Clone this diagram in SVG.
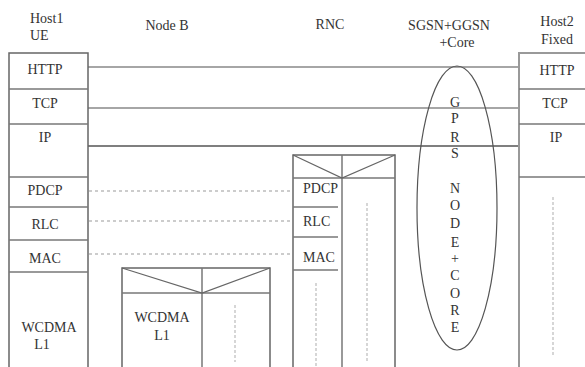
<svg xmlns="http://www.w3.org/2000/svg" width="585" height="367" viewBox="0 0 585 367" font-family="Liberation Serif, Times New Roman, DejaVu Serif, serif">
<style>
text{font-family:"Liberation Serif","Times New Roman","DejaVu Serif",serif;font-size:14px;fill:#333}
.c{text-anchor:middle}
.box{fill:none;stroke:#666;stroke-width:1.5}
.sep{stroke:#777;stroke-width:1.5}
.ln{stroke:#888;stroke-width:1.5}
.dash{stroke:#999;stroke-width:1.2;stroke-dasharray:3,3}
.vd{stroke:#bbb;stroke-width:1.2;stroke-dasharray:3,2}
</style>
<rect width="585" height="367" fill="#fff"/>

<g id="headers">
<text x="30" y="23">Host1</text>
<text x="30" y="40">UE</text>
<text x="167" y="30" class="c">Node B</text>
<text x="330" y="29" class="c">RNC</text>
<text x="449" y="30" class="c">SGSN+GGSN</text>
<text x="457" y="47" class="c">+Core</text>
<text x="557" y="26" class="c">Host2</text>
<text x="557" y="44" class="c">Fixed</text>
</g>

<g id="connectors">
<line class="ln" x1="88" y1="67" x2="519" y2="67"/>
<line class="ln" x1="88" y1="108" x2="519" y2="108" stroke="#777"/>
<line x1="88" y1="146" x2="519" y2="146" stroke="#555" stroke-width="1.5"/>
<line class="dash" x1="89" y1="191" x2="293" y2="191"/>
<line class="dash" x1="89" y1="221" x2="293" y2="221"/>
<line class="dash" x1="89" y1="254" x2="293" y2="254"/>
</g>

<g id="host1">
<path class="box" d="M9,367 V53 H88 V367"/>
<line class="sep" x1="9" y1="89" x2="88" y2="89"/>
<line class="sep" x1="9" y1="124" x2="88" y2="124"/>
<line class="sep" x1="9" y1="177" x2="88" y2="177"/>
<line class="sep" x1="9" y1="207" x2="88" y2="207"/>
<line class="sep" x1="9" y1="240" x2="88" y2="240"/>
<line class="sep" x1="9" y1="272" x2="88" y2="272"/>
<text x="45" y="74" class="c">HTTP</text>
<text x="45" y="108" class="c">TCP</text>
<text x="45" y="142" class="c">IP</text>
<text x="45" y="195" class="c">PDCP</text>
<text x="45" y="229" class="c">RLC</text>
<text x="45" y="263" class="c">MAC</text>
<text x="49" y="332" class="c">WCDMA</text>
<text x="42" y="349" class="c">L1</text>
</g>

<g id="nodeb">
<path class="box" d="M122,367 V268 H270 V367"/>
<line class="sep" x1="202" y1="268" x2="202" y2="367"/>
<line class="sep" x1="122" y1="293" x2="270" y2="293"/>
<polyline fill="none" stroke="#666" stroke-width="1.2" points="122,268 202,293 270,268"/>
<line class="vd" x1="235" y1="305" x2="235" y2="362"/>
<text x="162" y="322" class="c">WCDMA</text>
<text x="162" y="340" class="c">L1</text>
</g>

<g id="rnc">
<path class="box" d="M293,367 V155 H395 V367"/>
<line class="sep" x1="342" y1="155" x2="342" y2="367"/>
<line class="sep" x1="293" y1="178" x2="395" y2="178"/>
<polyline fill="none" stroke="#666" stroke-width="1.2" points="293,155 342,178 395,155"/>
<line class="sep" x1="293" y1="207" x2="338" y2="207"/>
<line class="sep" x1="293" y1="237" x2="338" y2="237"/>
<line class="sep" x1="293" y1="270" x2="338" y2="270"/>
<line class="vd" x1="316" y1="283" x2="316" y2="367"/>
<line class="vd" x1="367" y1="203" x2="367" y2="362"/>
<text x="303" y="193">PDCP</text>
<text x="303" y="226">RLC</text>
<text x="303" y="262">MAC</text>
</g>

<g id="gprs">
<ellipse cx="457" cy="208" rx="40" ry="142" fill="none" stroke="#555" stroke-width="1.2"/>
<text x="455" y="107" class="c">G</text>
<text x="455" y="123" class="c">P</text>
<text x="455" y="142" class="c">R</text>
<text x="455" y="158" class="c">S</text>
<text x="455" y="193" class="c">N</text>
<text x="455" y="210" class="c">O</text>
<text x="455" y="228" class="c">D</text>
<text x="455" y="247" class="c">E</text>
<text x="455" y="263" class="c">+</text>
<text x="455" y="280" class="c">C</text>
<text x="455" y="298" class="c">O</text>
<text x="455" y="315" class="c">R</text>
<text x="455" y="332" class="c">E</text>
</g>

<g id="host2">
<path d="M519,367 V53 H585" fill="none" stroke="#999" stroke-width="2"/>
<line class="sep" x1="519" y1="89" x2="585" y2="89" stroke="#999"/>
<line class="sep" x1="519" y1="124" x2="585" y2="124" stroke="#999"/>
<line class="sep" x1="519" y1="177" x2="585" y2="177" stroke="#aaa"/>
<line class="vd" x1="553" y1="197" x2="553" y2="356"/>
<text x="557" y="75" class="c">HTTP</text>
<text x="555" y="108" class="c">TCP</text>
<text x="556" y="142" class="c">IP</text>
</g>
</svg>
